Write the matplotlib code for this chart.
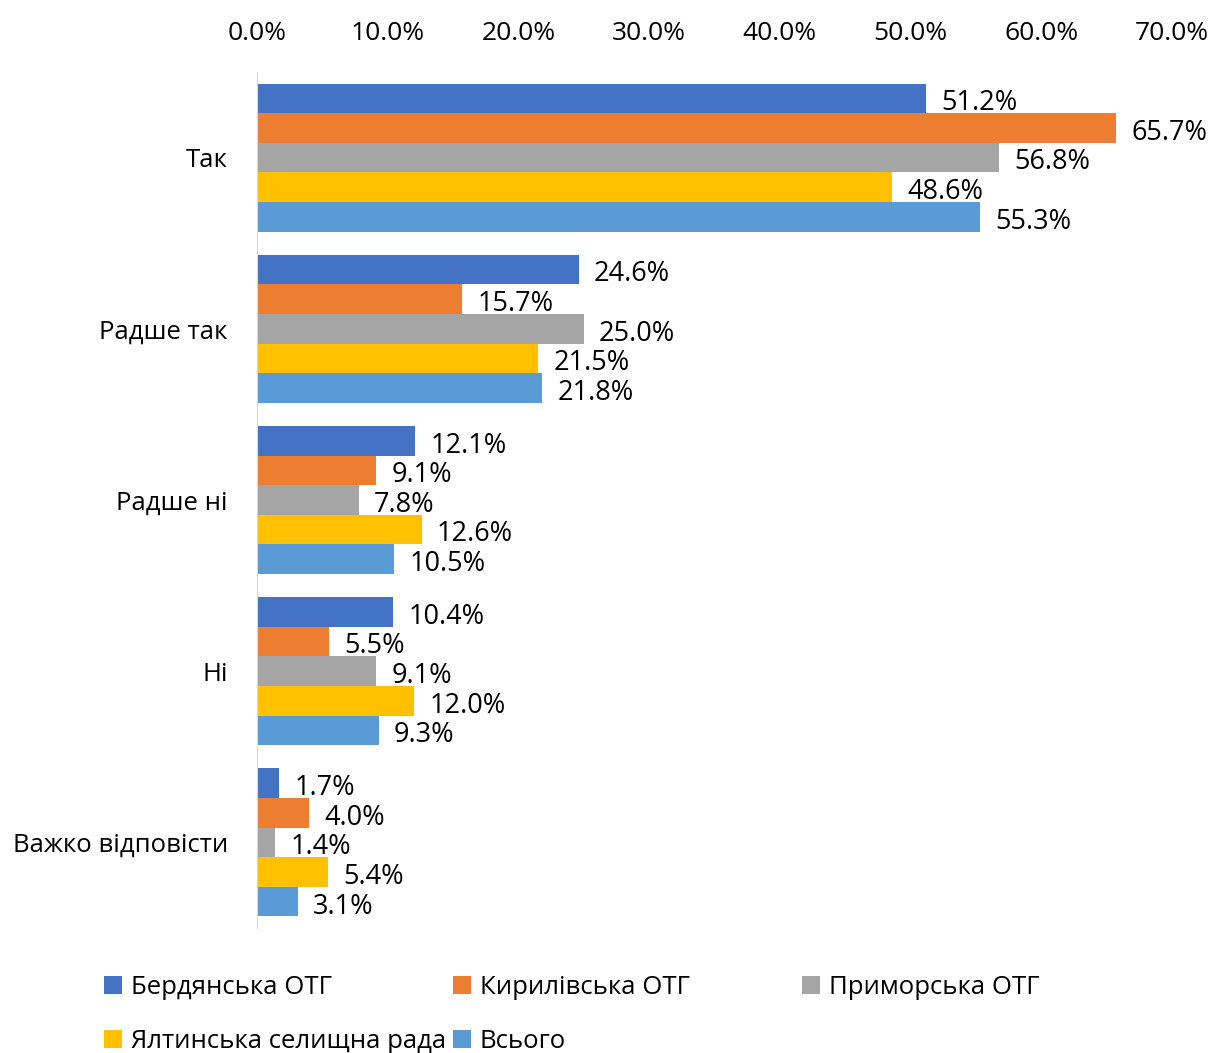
import numpy as np
import matplotlib
matplotlib.use('Agg')
from matplotlib import pyplot as plt

plt.rcParams['font.family'] = ['Open Sans', 'DejaVu Sans']

categories = ['Так', 'Радше так', 'Радше ні', 'Ні', 'Важко відповісти']
series_names = ['Бердянська ОТГ', 'Кирилівська ОТГ', 'Приморська ОТГ',
                'Ялтинська селищна рада', 'Всього']
berdyansk = [51.2, 24.6, 12.1, 10.4, 1.7]
kyrylivka = [65.7, 15.7, 9.1, 5.5, 4.0]
prymorsk = [56.8, 25.0, 7.8, 9.1, 1.4]
yalta = [48.6, 21.5, 12.6, 12.0, 5.4]
total = [55.3, 21.8, 10.5, 9.3, 3.1]
colors = ['#4472C4', '#ED7D31', '#A5A5A5', '#FFC000', '#5B9BD5']

data = [berdyansk, kyrylivka, prymorsk, yalta, total]

fig = plt.figure(figsize=(12.14, 10.53), dpi=100)
ax = fig.add_axes([0.2117, 0.1187, 0.7537, 0.8129])

y = np.arange(len(categories))
h = 0.173
handles = []
for i, vals in enumerate(data):
    pos = y + (i - 2) * h
    bars = ax.barh(pos, vals, height=h, color=colors[i], label=series_names[i])
    anns = ax.bar_label(bars, labels=['%.1f%%' % v for v in vals], padding=11, fontsize=19.5)
    # labels sit a little under the bar centre in the original
    for a in anns:
        a.xyann = (11, -3.5)
    handles.append(bars)

ax.set_xlim(0, 70)
ax.set_ylim(4.5, -0.5)
ax.set_xticks(np.arange(0, 71, 10))
ax.set_xticklabels(['%.1f%%' % v for v in np.arange(0, 71, 10)])
ax.xaxis.tick_top()
ax.tick_params(axis='x', length=0, labelsize=19, pad=19)
ax.set_yticks(y)
ax.set_yticklabels(categories)
ax.tick_params(axis='y', length=0, labelsize=18.5, pad=21)
for s in ['top', 'right', 'bottom']:
    ax.spines[s].set_visible(False)
ax.spines['left'].set_color('#D9D9D9')

leg_pos = [(0.0857, 0.0625), (0.373, 0.0625), (0.661, 0.0625),
           (0.0857, 0.0108), (0.373, 0.0108)]
for hd, name, (lx, ly) in zip(handles, series_names, leg_pos):
    fig.legend(handles=[hd], labels=[name], loc='center left', bbox_to_anchor=(lx, ly),
               frameon=False, fontsize=18.5, handlelength=0.7, handleheight=0.7,
               handletextpad=0.35, borderaxespad=0, borderpad=0)

fig.savefig('out.png', dpi=100)
